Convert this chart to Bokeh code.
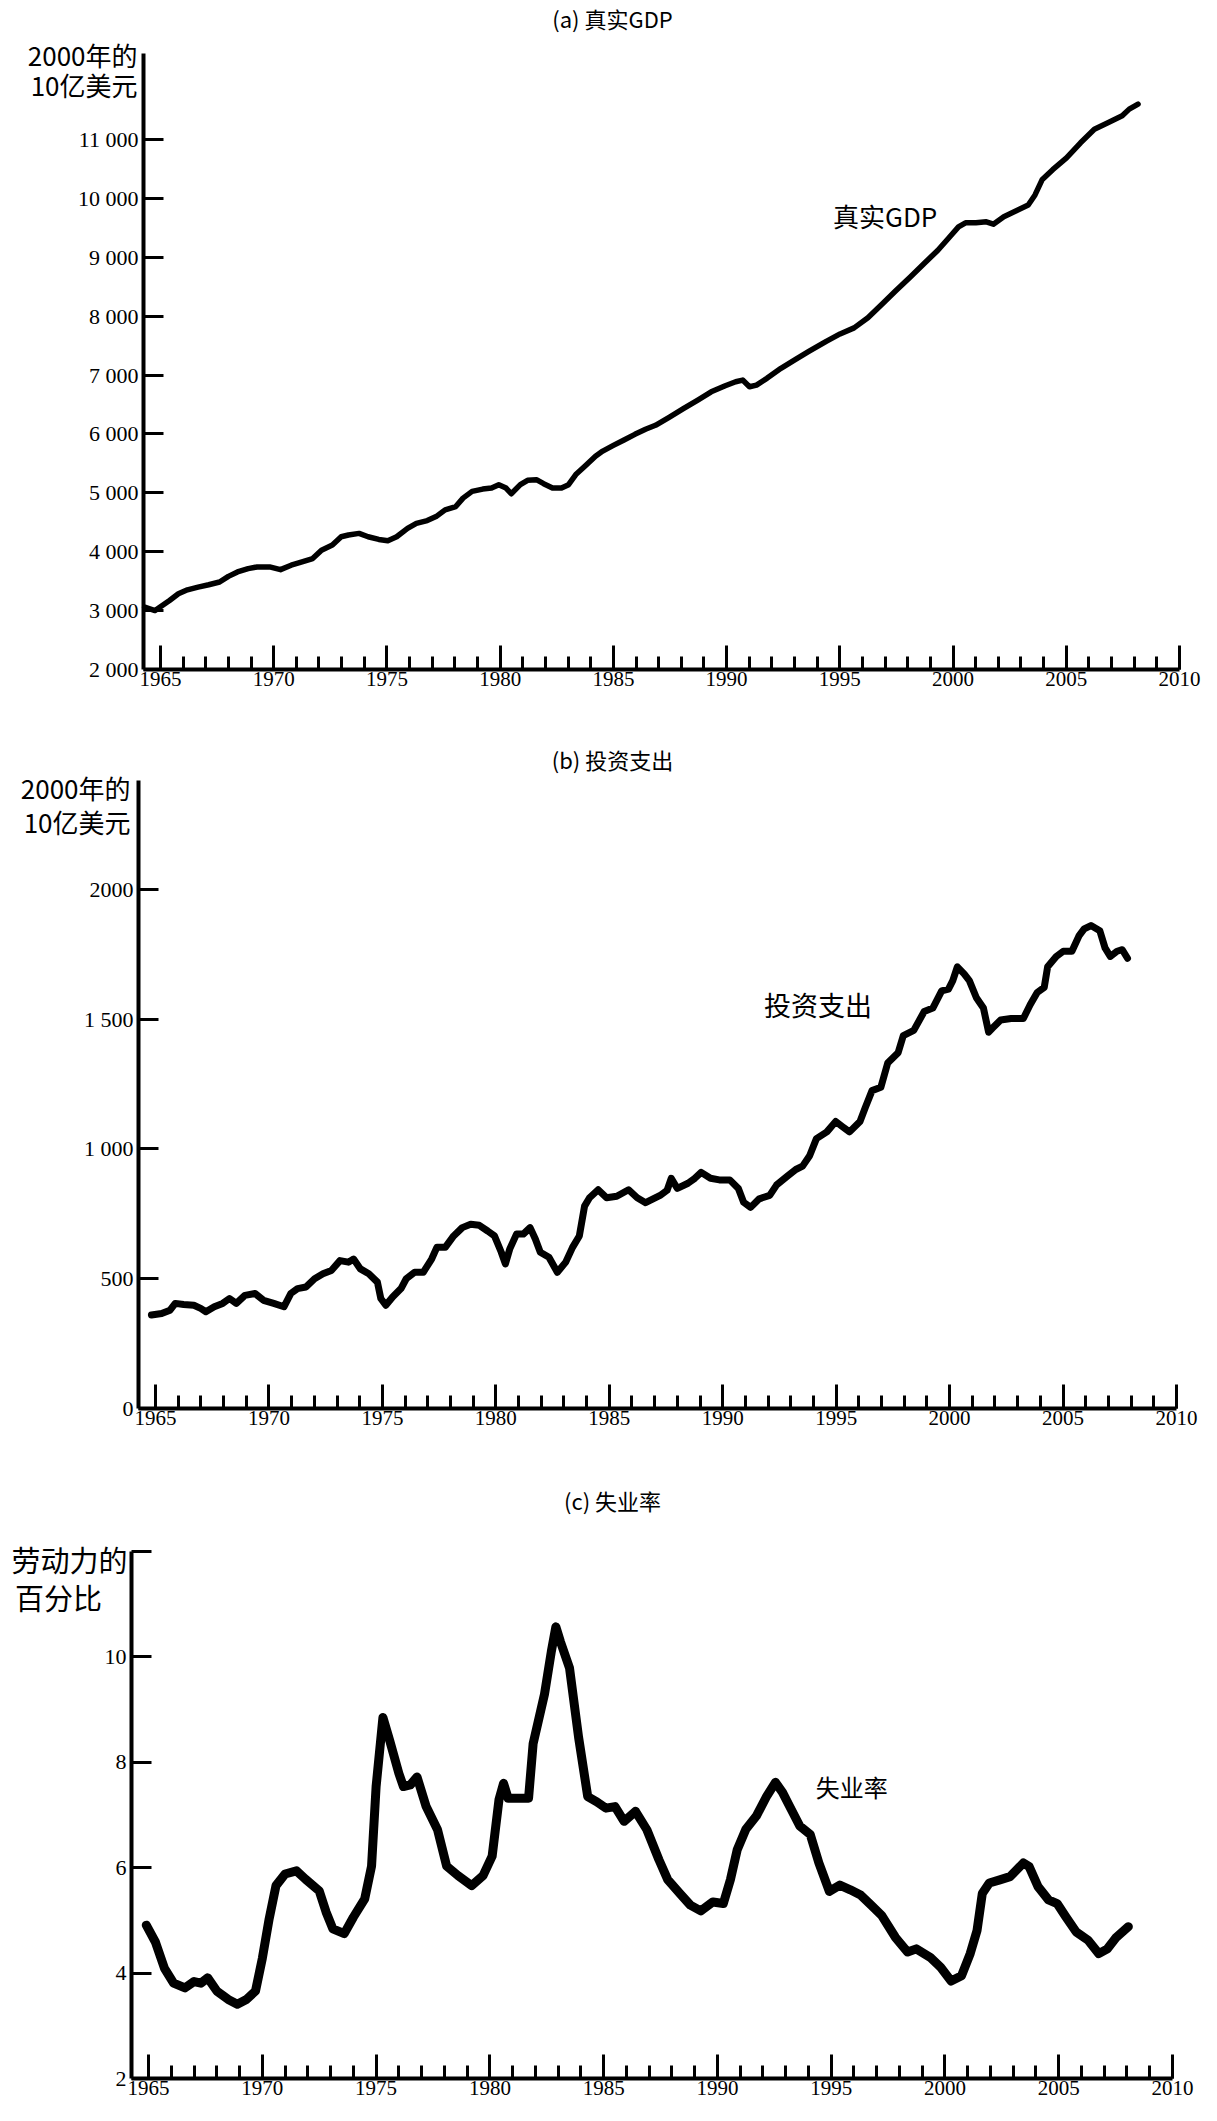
from bokeh.plotting import figure
from bokeh.models import FixedTicker, Label, Range1d
from bokeh.layouts import column
from bokeh.embed import file_html
from bokeh.resources import INLINE

# ---------------- data ----------------
gdp_year = [1964.30, 1964.76, 1965.08, 1965.40, 1965.79, 1966.19, 1966.66, 1967.13, 1967.61, 1968.00,
            1968.40, 1968.87, 1969.27, 1969.82, 1970.30, 1970.77, 1971.25, 1971.72, 1972.11, 1972.59,
            1972.98, 1973.30, 1973.77, 1974.17, 1974.64, 1975.04, 1975.43, 1975.91, 1976.30, 1976.78,
            1977.17, 1977.57, 1978.04, 1978.36, 1978.76, 1979.23, 1979.62, 1979.94, 1980.26, 1980.49,
            1980.89, 1981.21, 1981.60, 1981.92, 1982.31, 1982.71, 1983.02, 1983.34, 1983.74, 1984.21,
            1984.53, 1985.00, 1985.47, 1985.95, 1986.42, 1986.86, 1987.48, 1988.09, 1988.71, 1989.32,
            1989.94, 1990.40, 1990.71, 1991.01, 1991.32, 1991.78, 1992.40, 1993.01, 1993.63, 1994.40,
            1995.01, 1995.63, 1996.24, 1996.86, 1997.47, 1998.09, 1998.70, 1999.32, 1999.78, 2000.24,
            2000.55, 2001.01, 2001.47, 2001.78, 2002.24, 2002.86, 2003.32, 2003.62, 2003.93, 2004.40,
            2005.01, 2005.63, 2006.24, 2006.86, 2007.47, 2007.78, 2008.17]
gdp_value = [3060, 3000, 3086, 3171, 3285, 3353, 3399, 3439, 3485, 3581,
             3656, 3713, 3741, 3741, 3695, 3770, 3827, 3884, 4026, 4112,
             4254, 4283, 4311, 4254, 4208, 4186, 4254, 4397, 4482, 4528,
             4596, 4710, 4767, 4910, 5024, 5063, 5081, 5138, 5081, 4984,
             5138, 5212, 5223, 5155, 5081, 5081, 5138, 5309, 5451, 5622,
             5708, 5804, 5896, 5993, 6078, 6146, 6286, 6429, 6571, 6714,
             6817, 6886, 6914, 6800, 6829, 6943, 7114, 7257, 7400, 7571,
             7697, 7800, 7971, 8200, 8429, 8657, 8886, 9114, 9314, 9514,
             9583, 9583, 9600, 9560, 9686, 9800, 9886, 10057, 10314, 10486,
             10686, 10943, 11171, 11286, 11400, 11514, 11600]

inv_year = [1964.82, 1965.27, 1965.64, 1965.87, 1966.24, 1966.69, 1966.99, 1967.22, 1967.59, 1967.96,
            1968.26, 1968.56, 1968.94, 1969.39, 1969.76, 1970.21, 1970.66, 1970.96, 1971.26, 1971.63,
            1972.01, 1972.38, 1972.75, 1973.13, 1973.50, 1973.73, 1974.03, 1974.40, 1974.78, 1974.93,
            1975.15, 1975.45, 1975.82, 1976.05, 1976.42, 1976.80, 1977.17, 1977.40, 1977.77, 1978.14,
            1978.52, 1978.89, 1979.27, 1979.64, 1979.94, 1980.24, 1980.42, 1980.61, 1980.91, 1981.21,
            1981.51, 1981.74, 1981.96, 1982.34, 1982.71, 1983.08, 1983.38, 1983.68, 1983.91, 1984.13,
            1984.51, 1984.88, 1985.33, 1985.85, 1986.23, 1986.60, 1987.24, 1987.55, 1987.73, 1988.00,
            1988.47, 1988.77, 1989.05, 1989.46, 1989.85, 1990.31, 1990.69, 1990.92, 1991.23, 1991.61,
            1992.07, 1992.37, 1992.83, 1993.22, 1993.52, 1993.83, 1994.13, 1994.59, 1994.98, 1995.28,
            1995.59, 1996.05, 1996.28, 1996.58, 1996.97, 1997.27, 1997.73, 1997.96, 1998.42, 1998.88,
            1999.26, 1999.65, 1999.95, 2000.14, 2000.34, 2000.64, 2000.87, 2001.18, 2001.49, 2001.72,
            2001.87, 2002.25, 2002.71, 2003.25, 2003.55, 2003.86, 2004.17, 2004.32, 2004.70, 2005.01,
            2005.39, 2005.70, 2005.93, 2006.23, 2006.62, 2006.85, 2007.08, 2007.38, 2007.61, 2007.84]
inv_value = [360, 366, 379, 405, 401, 398, 386, 373, 392, 405,
             424, 405, 436, 443, 417, 405, 392, 443, 462, 468,
             500, 519, 532, 570, 564, 576, 538, 519, 487, 424,
             398, 430, 462, 500, 525, 525, 576, 621, 621, 665,
             697, 710, 706, 684, 665, 602, 557, 614, 672, 672,
             697, 653, 602, 583, 525, 564, 621, 665, 780, 812,
             843, 812, 818, 843, 812, 793, 821, 841, 887, 848,
             868, 887, 910, 887, 881, 881, 848, 795, 775, 808,
             821, 861, 894, 921, 934, 974, 1040, 1066, 1106, 1086,
             1066, 1106, 1159, 1225, 1238, 1331, 1371, 1437, 1457, 1530,
             1543, 1609, 1616, 1649, 1702, 1675, 1649, 1583, 1543, 1450,
             1464, 1497, 1503, 1503, 1556, 1603, 1623, 1702, 1742, 1762,
             1762, 1821, 1848, 1861, 1841, 1775, 1742, 1762, 1768, 1735]

unemp_year = [1964.90, 1965.30, 1965.70, 1966.10, 1966.60, 1967.00, 1967.30, 1967.60, 1968.00, 1968.50,
              1968.90, 1969.30, 1969.70, 1970.00, 1970.30, 1970.60, 1971.00, 1971.50, 1971.90, 1972.50,
              1972.80, 1973.10, 1973.60, 1974.00, 1974.50, 1974.80, 1975.00, 1975.30, 1975.60, 1976.00,
              1976.20, 1976.50, 1976.80, 1977.20, 1977.70, 1978.10, 1978.60, 1979.20, 1979.70, 1980.10,
              1980.40, 1980.60, 1980.80, 1981.20, 1981.70, 1981.90, 1982.40, 1982.70, 1982.90, 1983.10,
              1983.50, 1983.90, 1984.30, 1984.70, 1985.10, 1985.50, 1985.90, 1986.40, 1986.90, 1987.43,
              1987.82, 1988.35, 1988.81, 1989.27, 1989.80, 1990.26, 1990.57, 1990.87, 1991.25, 1991.71,
              1992.17, 1992.55, 1992.86, 1993.24, 1993.62, 1994.08, 1994.46, 1994.92, 1995.38, 1995.84,
              1996.29, 1996.75, 1997.21, 1997.82, 1998.36, 1998.74, 1999.35, 1999.81, 2000.27, 2000.73,
              2001.11, 2001.41, 2001.64, 2001.95, 2002.41, 2002.86, 2003.45, 2003.70, 2004.09, 2004.55,
              2004.93, 2005.31, 2005.77, 2006.30, 2006.76, 2007.14, 2007.53, 2008.06]
unemp_value = [4.91, 4.59, 4.09, 3.81, 3.72, 3.84, 3.81, 3.91, 3.66, 3.50,
               3.41, 3.50, 3.66, 4.28, 5.03, 5.66, 5.88, 5.94, 5.78, 5.56,
               5.16, 4.84, 4.75, 5.06, 5.41, 6.03, 7.54, 8.85, 8.41, 7.79,
               7.54, 7.57, 7.72, 7.16, 6.72, 6.03, 5.85, 5.66, 5.85, 6.22,
               7.29, 7.60, 7.32, 7.32, 7.32, 8.35, 9.29, 10.10, 10.57, 10.29,
               9.79, 8.47, 7.35, 7.25, 7.13, 7.16, 6.88, 7.07, 6.72, 6.15,
               5.77, 5.51, 5.29, 5.18, 5.35, 5.32, 5.77, 6.34, 6.73, 6.98,
               7.36, 7.62, 7.43, 7.11, 6.79, 6.63, 6.09, 5.55, 5.67, 5.58,
               5.48, 5.29, 5.10, 4.68, 4.40, 4.46, 4.30, 4.11, 3.85, 3.95,
               4.37, 4.81, 5.51, 5.71, 5.77, 5.83, 6.09, 6.02, 5.64, 5.39,
               5.32, 5.07, 4.78, 4.62, 4.37, 4.46, 4.68, 4.88]

year_ticks = [1965, 1970, 1975, 1980, 1985, 1990, 1995, 2000, 2005, 2010]
year_minor_ticks = list(range(1965, 2011))

gdp_ticks = [2000, 3000, 4000, 5000, 6000, 7000, 8000, 9000, 10000, 11000]
gdp_tick_labels = ["2 000", "3 000", "4 000", "5 000", "6 000", "7 000", "8 000", "9 000", "10 000", "11 000"]
inv_ticks = [0, 500, 1000, 1500, 2000]
inv_tick_labels = ["0", "500", "1 000", "1 500", "2000"]
unemp_ticks = [2, 4, 6, 8, 10, 12]
unemp_tick_labels = ["2", "4", "6", "8", "10", ""]

titles = ["(a) 真实GDP", "(b) 投资支出", "(c) 失业率"]
y_titles = [["2000年的", "10亿美元"], ["2000年的", "10亿美元"], ["劳动力的", "百分比"]]
series_names = ["真实GDP", "投资支出", "失业率"]

# ---------------- layout / style ----------------
X0, XEND = 1964.25, 2010.0
W = 1201
PAGE_L, PAGE_R = 8, 8 + W
NUM_FONT = "Liberation Serif"
CJK_FONT = "Noto Sans CJK SC"


def make_panel(xs, ys, y0, y1, ytop, ticks, labels, fig_top, height, left, right, top, bottom, lw):
    """left/right: page x of X0/XEND; bottom/top: page y of y0/y1; ytop: end of the y axis line."""
    kx = (XEND - X0) / (right - left)
    ky = (y1 - y0) / (bottom - top)
    fig_bottom = fig_top + height
    xr = Range1d(X0 - (left - PAGE_L) * kx, X0 + (PAGE_R - left) * kx)
    yr = Range1d(y0 - (fig_bottom - bottom) * ky, y0 + (bottom - fig_top) * ky)
    p = figure(width=W, height=height, x_range=xr, y_range=yr,
               output_backend="svg", toolbar_location=None,
               min_border=0, min_border_left=0, min_border_right=0,
               min_border_top=0, min_border_bottom=0)
    p.outline_line_color = None
    p.xgrid.visible = False
    p.ygrid.visible = False
    p.background_fill_color = "white"
    p.border_fill_color = "white"
    p.line(xs, ys, line_width=lw, line_color="black", line_join="round", line_cap="round")

    xa = p.xaxis[0]
    xa.fixed_location = y0
    xa.bounds = (X0, XEND)
    xa.ticker = FixedTicker(ticks=year_ticks, minor_ticks=year_minor_ticks)
    xa.axis_line_width = 4
    xa.axis_line_color = "black"
    xa.major_tick_in = 24
    xa.major_tick_out = 0
    xa.minor_tick_in = 13
    xa.minor_tick_out = 0
    xa.major_tick_line_width = 3
    xa.minor_tick_line_width = 3
    xa.major_label_text_font = NUM_FONT
    xa.major_label_text_font_size = "21px"
    xa.major_label_text_color = "black"
    xa.major_label_standoff = 2

    ya = p.yaxis[0]
    ya.fixed_location = X0
    ya.bounds = (y0, ytop)
    ya.ticker = FixedTicker(ticks=ticks)
    ya.major_label_overrides = {t: s for t, s in zip(ticks, labels)}
    ya.axis_line_width = 4
    ya.axis_line_color = "black"
    ya.major_tick_in = 20
    ya.major_tick_out = 0
    ya.minor_tick_in = 0
    ya.minor_tick_out = 0
    ya.major_tick_line_width = 3
    ya.major_label_text_font = NUM_FONT
    ya.major_label_text_font_size = "22px"
    ya.major_label_text_color = "black"
    ya.major_label_standoff = 5

    def dx(px):
        return X0 + (px - left) * kx

    def dy(py):
        return y0 + (bottom - py) * ky

    return p, dx, dy


def add_text(p, x, y, text, align="center", size="24px", font=CJK_FONT):
    p.add_layout(Label(x=x, y=y, text=text, text_align=align, text_baseline="middle",
                       text_font=font, text_font_size=size, text_color="black"))


# panel (a)
A = dict(left=151, right=1187, top=88, bottom=677)
pa, dxa, dya = make_panel(gdp_year, gdp_value, 2000, 12000, 12450, gdp_ticks, gdp_tick_labels,
                          fig_top=8, height=722, lw=5.5, **A)
add_text(pa, dxa(620), dya(25), titles[0], size="22px")
add_text(pa, dxa(A["left"] - 6), dya(62), y_titles[0][0], align="right", size="26px")
add_text(pa, dxa(A["left"] - 6), dya(92), y_titles[0][1], align="right", size="26px")
add_text(pa, 1997.0, 9700, series_names[0], size="26px")

# panel (b)
B = dict(left=146, right=1184, top=788, bottom=1416)
pb, dxb, dyb = make_panel(inv_year, inv_value, 0, 2420, 2420, inv_ticks, inv_tick_labels,
                          fig_top=730, height=720, lw=7, **B)
add_text(pb, dxb(620), dyb(766), titles[1], size="22px")
add_text(pb, dxb(B["left"] - 8), dyb(795), y_titles[1][0], align="right", size="26px")
add_text(pb, dxb(B["left"] - 8), dyb(829), y_titles[1][1], align="right", size="26px")
add_text(pb, 1994.2, 1555, series_names[1], size="27px")

# panel (c)
C = dict(left=139, right=1180, top=1559, bottom=2086)
pc, dxc, dyc = make_panel(unemp_year, unemp_value, 2, 12, 12, unemp_ticks, unemp_tick_labels,
                          fig_top=1450, height=663, lw=9, **C)
add_text(pc, dxc(620), dyc(1507), titles[2], size="22px")
add_text(pc, dxc(C["left"] - 4), dyc(1566), y_titles[2][0], align="right", size="29px")
add_text(pc, dxc(66), dyc(1604), y_titles[2][1], size="29px")
add_text(pc, 1995.9, 7.55, series_names[2], size="24px")

layout = column(pa, pb, pc, spacing=0)
open("out.html", "w").write(file_html(layout, INLINE))
